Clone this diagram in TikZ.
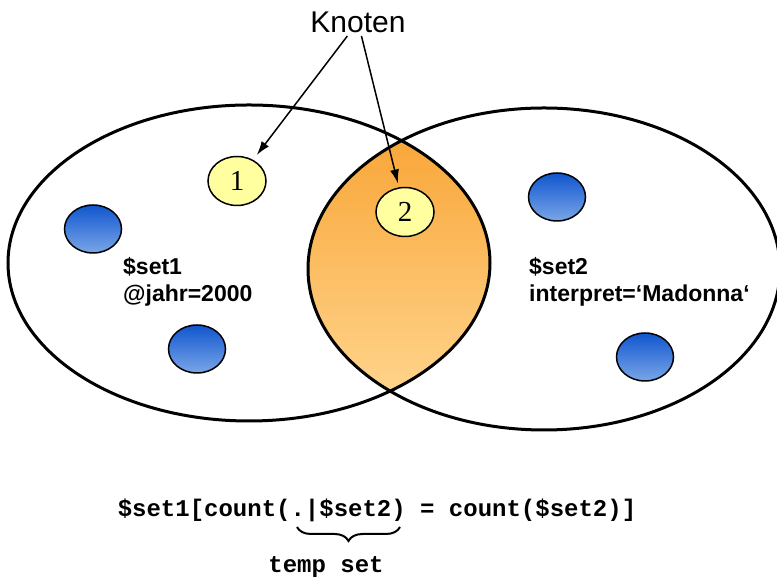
\documentclass[tikz,border=0pt]{standalone}
\usepackage{fontspec}
\setmainfont{Liberation Sans}
\newfontfamily\numfont{Liberation Serif}
\newfontfamily\codefont{Liberation Mono}
\usetikzlibrary{shapes.geometric, arrows.meta, positioning, decorations.pathreplacing}
\definecolor{lensdark}{RGB}{249,166,56}
\definecolor{lenslight}{RGB}{255,212,140}
\definecolor{knotfill}{RGB}{255,255,160}
\definecolor{balltop}{RGB}{16,86,206}
\definecolor{ballbottom}{RGB}{122,166,232}

\begin{document}
\begin{tikzpicture}[x=1pt, y=1pt]
\tikzstyle{knot} = [ellipse, draw, line width=1.5pt, fill=knotfill, minimum width=58pt,
    minimum height=49pt, inner sep=0pt, font=\numfont\fontsize{29}{29}\selectfont]
\tikzstyle{ball} = [ellipse, draw, line width=1.5pt, top color=balltop,
    bottom color=ballbottom, minimum width=57pt, minimum height=48pt]
\tikzstyle{setlabel} = [anchor=north west, inner sep=0pt, align=left,
    font=\bfseries\fontsize{23}{27}\selectfont]
\tikzstyle{code} = [inner sep=0pt, anchor=base, font=\codefont\bfseries\fontsize{24}{24}\selectfont]
\tikzstyle{line} = [draw, line width=1.5pt, -{Latex[length=14pt,width=9pt]}]
\tikzstyle{setline} = [line width=3pt]

    \useasboundingbox (0,0) rectangle (777,580);

    % intersection
    \begin{scope}
        \clip (249,317) ellipse [x radius=241, y radius=158];
        \clip (544,311) ellipse [x radius=236, y radius=161];
        \shade [top color=lensdark, bottom color=lenslight] (300,185) rectangle (500,445);
    \end{scope}

    % the two sets
    \draw [setline] (249,317) ellipse [x radius=241, y radius=158];
    \draw [setline] (544,311) ellipse [x radius=236, y radius=161];

    % Place nodes
    \node [knot] (n1) at (237,399) {1};
    \node [knot] (n2) at (405,368) {2};
    \node [ball] (b1) at (93,351) {};
    \node [ball] (b2) at (197,231) {};
    \node [ball] (b3) at (557,383) {};
    \node [ball] (b4) at (645,223) {};
    \node [setlabel] (set1) at (123,323) {\$set1\\@jahr=2000};
    \node [setlabel] (set2) at (529,323) {\$set2\\interpret=‘Madonna‘};
    \node [font=\fontsize{30}{30}\selectfont] (knoten) at (358,558) {Knoten};
    \node [code] (query) at (377,63) {\$set1[count(.|\$set2) = count(\$set2)]};
    \node [code] (temp) at (326,7) {temp set};
    \coordinate (bl) at (297,53);
    \coordinate (br) at (400,53);

%paths
    \path [line, shorten >=6pt] (knoten) -- (n1);
    \path [line, shorten >=4pt] (knoten) -- (n2);
    \draw [decorate, decoration={brace, mirror, amplitude=14pt}, line width=2pt] (bl) -- (br);

\end{tikzpicture}
\end{document}
